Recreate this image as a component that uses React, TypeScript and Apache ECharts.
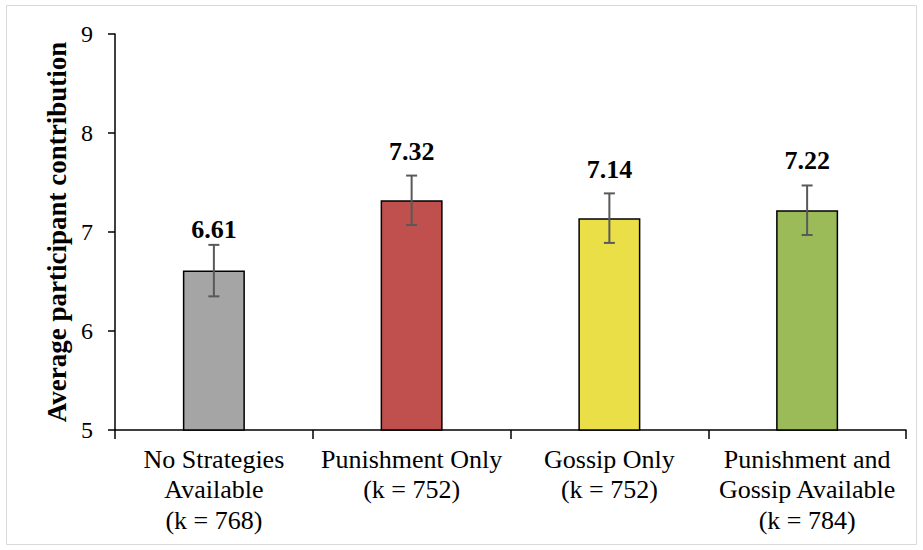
import React, { useEffect, useRef } from "react";
import * as echarts from "echarts";

const categories = [
  "No Strategies\nAvailable\n(k = 768)",
  "Punishment Only\n(k = 752)",
  "Gossip Only\n(k = 752)",
  "Punishment and\nGossip Available\n(k = 784)",
];
const means = [6.61, 7.32, 7.14, 7.22];
const errors = [0.26, 0.25, 0.25, 0.25];
const barColors = ["#A5A5A5", "#C0504D", "#EBDF48", "#9BBB59"];
const yTicks = { min: 5, max: 9, interval: 1 };
const yTitle = "Average participant contribution";

const FONT = "Liberation Serif";
// pixel gap between error-bar top and value-label centre (style only)
const labelGaps = [15, 24, 24, 25];

export default function App() {
  const ref = useRef<HTMLDivElement>(null);
  useEffect(() => {
    if (!ref.current) return;
    const chart = echarts.init(ref.current, undefined, { renderer: "svg" });
    const errData = means.map((m, i) => [i, m - errors[i], m + errors[i], m]);
    chart.setOption({
      animation: false,
      backgroundColor: "#fff",
      textStyle: { fontFamily: FONT },
      graphic: [
        {
          type: "rect",
          shape: { x: 6.5, y: 5.5, width: 910, height: 539 },
          style: { fill: "none", stroke: "#D9D9D9", lineWidth: 1 },
          silent: true,
        },
      ],
      grid: { left: 115, right: 17, top: 34, bottom: 120 },
      xAxis: {
        type: "category",
        data: categories,
        boundaryGap: true,
        axisLine: { lineStyle: { color: "#000", width: 1.5 } },
        axisTick: { show: true, length: 9, lineStyle: { color: "#000", width: 1.5 } },
        axisLabel: {
          interval: 0,
          fontFamily: FONT,
          fontSize: 26,
          color: "#000",
          lineHeight: 30.5,
          margin: 14,
        },
      },
      yAxis: {
        type: "value",
        min: yTicks.min,
        max: yTicks.max,
        interval: yTicks.interval,
        name: yTitle,
        nameLocation: "middle",
        nameGap: 40,
        nameTextStyle: { fontFamily: FONT, fontSize: 27, fontWeight: "bold", color: "#000" },
        axisLine: { show: true, lineStyle: { color: "#000", width: 1.5 } },
        axisTick: { show: true, length: 7, lineStyle: { color: "#000", width: 1.5 } },
        splitLine: { show: false },
        axisLabel: { fontFamily: FONT, fontSize: 24, color: "#000", margin: 22 },
      },
      series: [
        {
          type: "bar",
          data: means.map((v, i) => ({
            value: v,
            itemStyle: { color: barColors[i], borderColor: "#000", borderWidth: 1.5 },
          })),
          barWidth: 62,
        },
        {
          type: "custom",
          data: errData,
          z: 10,
          renderItem: (params: any, api: any) => {
            const x = api.value(0);
            const lo = api.coord([x, api.value(1)]);
            const hi = api.coord([x, api.value(2)]);
            const cap = 5.5;
            const st = { stroke: "#595959", lineWidth: 2 };
            return {
              type: "group",
              children: [
                { type: "line", shape: { x1: hi[0], y1: hi[1], x2: lo[0], y2: lo[1] }, style: st },
                { type: "line", shape: { x1: hi[0] - cap, y1: hi[1], x2: hi[0] + cap, y2: hi[1] }, style: st },
                { type: "line", shape: { x1: lo[0] - cap, y1: lo[1], x2: lo[0] + cap, y2: lo[1] }, style: st },
                {
                  type: "text",
                  x: hi[0],
                  y: hi[1] - labelGaps[params.dataIndex],
                  style: {
                    text: api.value(3).toFixed(2),
                    fontFamily: FONT,
                    fontSize: 26,
                    fontWeight: "bold",
                    fill: "#000",
                    align: "center",
                    verticalAlign: "middle",
                  },
                },
              ],
            };
          },
        },
      ],
    });
    return () => chart.dispose();
  }, []);
  return (
    <div
      ref={ref}
      style={{ position: "absolute", left: 0, top: 0, width: 923, height: 550 }}
    />
  );
}
